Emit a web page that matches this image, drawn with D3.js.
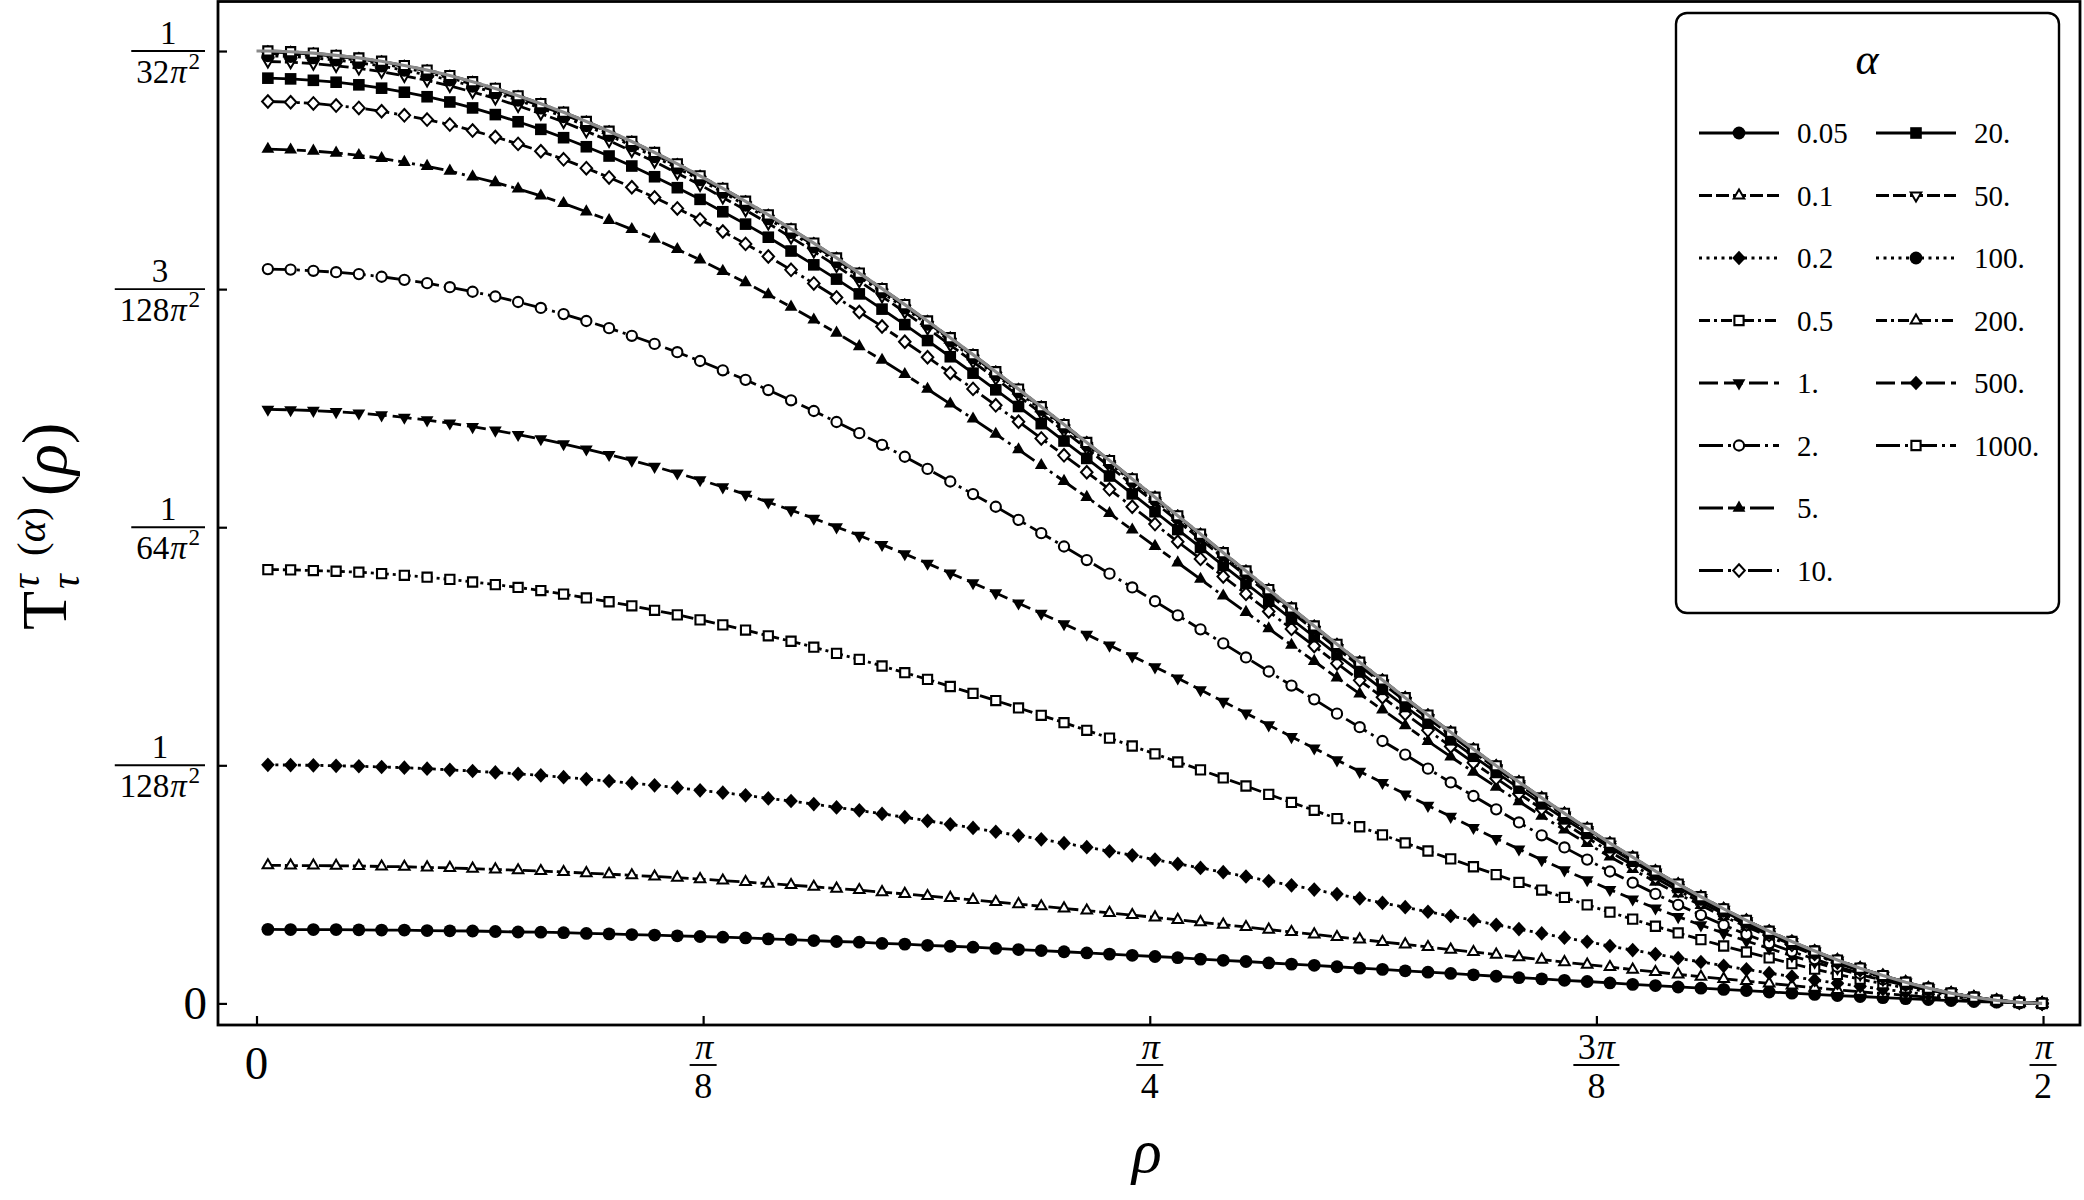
<!DOCTYPE html>
<html>
<head>
<meta charset="utf-8">
<script src="https://cdn.jsdelivr.net/npm/d3@7"></script>
<style>
html,body{margin:0;padding:0;background:#fff;}
svg{display:block;}
text{font-family:"Liberation Serif","DejaVu Serif",serif;fill:#000;}
</style>
</head>
<body>
<svg id="chart" width="2084" height="1200" xmlns="http://www.w3.org/2000/svg"></svg>
<script>
// ---------------- DATA ----------------
// sample points rho (radians)
const rho = [0.01,0.03,0.05,0.07,0.09,0.11,0.13,0.15,0.17,0.19,
0.21,0.23,0.25,0.27,0.29,0.31,0.33,0.35,0.37,0.39,
0.41,0.43,0.45,0.47,0.49,0.51,0.53,0.55,0.57,0.59,
0.61,0.63,0.65,0.67,0.69,0.71,0.73,0.75,0.77,0.79,
0.81,0.83,0.85,0.87,0.89,0.91,0.93,0.95,0.97,0.99,
1.01,1.03,1.05,1.07,1.09,1.11,1.13,1.15,1.17,1.19,
1.21,1.23,1.25,1.27,1.29,1.31,1.33,1.35,1.37,1.39,
1.41,1.43,1.45,1.47,1.49,1.51,1.53,1.55,1.57];

const alphaLabels = ["0.05","0.1","0.2","0.5","1.","2.","5.","10.","20.","50.","100.","200.","500.","1000."];

// T values in units of 1/(128 pi^2), one array per alpha
const T_a0_05 = [0.311,0.310,0.310,0.310,0.309,0.308,0.308,0.306,0.305,0.304,
0.302,0.300,0.299,0.297,0.294,0.292,0.289,0.287,0.284,0.281,
0.278,0.275,0.271,0.268,0.264,0.260,0.257,0.252,0.249,0.244,
0.240,0.236,0.231,0.226,0.222,0.217,0.212,0.207,0.202,0.197,
0.192,0.186,0.181,0.176,0.170,0.165,0.160,0.154,0.148,0.143,
0.137,0.131,0.126,0.120,0.114,0.108,0.103,0.097,0.092,0.086,
0.080,0.075,0.069,0.064,0.059,0.054,0.048,0.043,0.038,0.033,
0.029,0.024,0.020,0.016,0.012,0.008,0.005,0.002,0.000];

const T_a0_1 = [0.580,0.579,0.579,0.578,0.577,0.575,0.574,0.571,0.569,0.566,
0.563,0.559,0.556,0.552,0.547,0.543,0.538,0.533,0.528,0.522,
0.516,0.510,0.503,0.497,0.490,0.482,0.476,0.467,0.460,0.451,
0.443,0.435,0.426,0.417,0.408,0.399,0.390,0.380,0.371,0.361,
0.351,0.341,0.331,0.321,0.310,0.300,0.290,0.279,0.269,0.258,
0.248,0.237,0.226,0.216,0.205,0.194,0.184,0.173,0.163,0.153,
0.142,0.132,0.122,0.112,0.103,0.094,0.084,0.075,0.066,0.057,
0.049,0.041,0.034,0.026,0.019,0.013,0.008,0.003,0.000];

const T_a0_2 = [1.002,1.001,1.000,0.998,0.996,0.993,0.990,0.986,0.981,0.976,
0.970,0.964,0.958,0.950,0.942,0.934,0.925,0.916,0.906,0.895,
0.885,0.874,0.861,0.850,0.837,0.823,0.811,0.796,0.782,0.767,
0.752,0.737,0.721,0.705,0.689,0.673,0.656,0.639,0.622,0.604,
0.586,0.569,0.551,0.533,0.514,0.496,0.478,0.459,0.441,0.422,
0.404,0.385,0.367,0.349,0.330,0.312,0.294,0.276,0.259,0.241,
0.224,0.207,0.190,0.174,0.158,0.143,0.127,0.113,0.098,0.085,
0.072,0.060,0.048,0.037,0.026,0.018,0.010,0.004,0.000];

const T_a0_5 = [1.822,1.821,1.818,1.815,1.811,1.805,1.798,1.790,1.781,1.770,
1.759,1.747,1.734,1.719,1.703,1.687,1.670,1.651,1.632,1.611,
1.590,1.568,1.544,1.521,1.496,1.470,1.445,1.417,1.389,1.361,
1.331,1.302,1.272,1.241,1.210,1.179,1.147,1.114,1.081,1.048,
1.014,0.981,0.947,0.913,0.878,0.844,0.811,0.776,0.742,0.708,
0.674,0.640,0.607,0.574,0.541,0.508,0.476,0.445,0.414,0.383,
0.354,0.324,0.296,0.268,0.241,0.216,0.191,0.167,0.144,0.122,
0.102,0.083,0.065,0.049,0.034,0.022,0.012,0.004,0.000];

const T_a1 = [2.495,2.493,2.490,2.485,2.479,2.471,2.461,2.450,2.437,2.422,
2.407,2.389,2.371,2.350,2.328,2.305,2.281,2.255,2.227,2.199,
2.169,2.138,2.105,2.072,2.037,2.001,1.965,1.927,1.888,1.848,
1.807,1.766,1.724,1.681,1.638,1.594,1.550,1.504,1.459,1.413,
1.366,1.317,1.268,1.219,1.169,1.120,1.072,1.022,0.974,0.927,
0.879,0.831,0.785,0.738,0.692,0.648,0.603,0.560,0.519,0.478,
0.438,0.400,0.364,0.329,0.295,0.262,0.231,0.200,0.172,0.146,
0.120,0.098,0.076,0.056,0.039,0.025,0.013,0.005,0.000];

const T_a2 = [3.084,3.082,3.077,3.071,3.063,3.052,3.039,3.025,3.008,2.989,
2.969,2.946,2.921,2.895,2.866,2.836,2.804,2.770,2.735,2.698,
2.659,2.619,2.576,2.533,2.488,2.442,2.395,2.346,2.296,2.245,
2.192,2.139,2.086,2.031,1.975,1.919,1.862,1.805,1.747,1.689,
1.630,1.571,1.512,1.453,1.394,1.335,1.277,1.217,1.160,1.102,
1.045,0.986,0.928,0.871,0.815,0.760,0.706,0.655,0.604,0.554,
0.507,0.460,0.414,0.371,0.329,0.290,0.253,0.218,0.186,0.154,
0.126,0.101,0.078,0.057,0.039,0.024,0.012,0.004,0.000];

const T_a5 = [3.588,3.585,3.580,3.572,3.562,3.549,3.533,3.516,3.496,3.472,
3.448,3.421,3.392,3.360,3.325,3.289,3.251,3.210,3.167,3.123,
3.075,3.028,2.977,2.925,2.871,2.816,2.759,2.702,2.642,2.580,
2.518,2.455,2.391,2.326,2.260,2.193,2.126,2.058,1.989,1.920,
1.851,1.782,1.712,1.643,1.574,1.505,1.437,1.368,1.300,1.233,
1.167,1.101,1.036,0.972,0.909,0.848,0.787,0.729,0.672,0.616,
0.563,0.510,0.460,0.412,0.365,0.322,0.280,0.240,0.204,0.169,
0.138,0.109,0.083,0.060,0.041,0.025,0.012,0.004,0.000];

const T_a10 = [3.788,3.785,3.780,3.771,3.761,3.747,3.730,3.712,3.691,3.666,
3.639,3.610,3.579,3.545,3.508,3.469,3.428,3.385,3.339,3.292,
3.242,3.190,3.137,3.081,3.024,2.965,2.904,2.843,2.779,2.714,
2.648,2.581,2.512,2.443,2.373,2.302,2.231,2.159,2.086,2.013,
1.939,1.867,1.793,1.720,1.646,1.573,1.501,1.428,1.357,1.286,
1.216,1.147,1.079,1.011,0.945,0.881,0.817,0.756,0.696,0.637,
0.581,0.527,0.474,0.424,0.376,0.331,0.287,0.246,0.208,0.172,
0.140,0.111,0.084,0.061,0.041,0.025,0.012,0.004,0.000];

const T_a20 = [3.886,3.883,3.877,3.869,3.858,3.844,3.827,3.808,3.786,3.761,
3.733,3.703,3.671,3.636,3.598,3.559,3.517,3.472,3.426,3.377,
3.325,3.273,3.218,3.160,3.102,3.042,2.980,2.916,2.851,2.784,
2.716,2.647,2.577,2.507,2.435,2.362,2.289,2.215,2.140,2.065,
1.990,1.915,1.839,1.764,1.689,1.614,1.540,1.465,1.392,1.319,
1.247,1.177,1.107,1.038,0.970,0.904,0.838,0.775,0.714,0.654,
0.597,0.540,0.487,0.435,0.386,0.339,0.294,0.253,0.214,0.177,
0.144,0.114,0.086,0.062,0.042,0.025,0.013,0.004,0.000];

const T_a50 = [3.956,3.953,3.947,3.938,3.927,3.913,3.896,3.877,3.854,3.828,
3.801,3.770,3.737,3.702,3.663,3.623,3.580,3.535,3.487,3.438,
3.385,3.332,3.276,3.217,3.158,3.097,3.033,2.969,2.903,2.835,
2.765,2.695,2.624,2.552,2.478,2.404,2.330,2.255,2.179,2.103,
2.026,1.949,1.872,1.796,1.719,1.643,1.568,1.491,1.417,1.343,
1.270,1.198,1.127,1.056,0.987,0.920,0.854,0.789,0.727,0.666,
0.607,0.550,0.496,0.443,0.393,0.345,0.300,0.257,0.218,0.180,
0.146,0.116,0.088,0.063,0.043,0.026,0.013,0.004,0.000];

const T_a100 = [3.980,3.977,3.971,3.962,3.951,3.937,3.919,3.900,3.878,3.852,
3.824,3.793,3.760,3.724,3.686,3.645,3.602,3.556,3.508,3.459,
3.406,3.352,3.295,3.237,3.177,3.115,3.052,2.987,2.920,2.852,
2.782,2.711,2.640,2.567,2.494,2.419,2.344,2.269,2.192,2.115,
2.038,1.961,1.884,1.807,1.729,1.653,1.577,1.500,1.426,1.351,
1.278,1.205,1.133,1.063,0.993,0.925,0.859,0.794,0.731,0.670,
0.611,0.553,0.498,0.446,0.395,0.347,0.301,0.259,0.219,0.181,
0.147,0.116,0.088,0.064,0.043,0.026,0.013,0.004,0.000];

const T_a200 = [3.990,3.987,3.981,3.972,3.961,3.947,3.929,3.910,3.887,3.861,
3.833,3.802,3.770,3.734,3.695,3.654,3.611,3.565,3.517,3.467,
3.414,3.361,3.304,3.245,3.185,3.123,3.059,2.995,2.928,2.859,
2.789,2.718,2.646,2.574,2.500,2.425,2.350,2.274,2.198,2.121,
2.043,1.966,1.888,1.811,1.734,1.657,1.581,1.504,1.429,1.355,
1.281,1.208,1.136,1.065,0.996,0.928,0.861,0.796,0.733,0.671,
0.612,0.555,0.500,0.447,0.396,0.348,0.302,0.259,0.219,0.182,
0.148,0.117,0.089,0.064,0.043,0.026,0.013,0.004,0.000];

const T_a500 = [3.996,3.993,3.987,3.978,3.967,3.953,3.935,3.916,3.893,3.867,
3.839,3.808,3.775,3.739,3.700,3.659,3.616,3.570,3.522,3.473,
3.420,3.366,3.309,3.250,3.190,3.128,3.064,2.999,2.932,2.863,
2.793,2.722,2.650,2.577,2.503,2.429,2.354,2.278,2.201,2.124,
2.046,1.969,1.891,1.814,1.736,1.659,1.583,1.506,1.432,1.357,
1.283,1.210,1.138,1.067,0.997,0.929,0.862,0.797,0.734,0.672,
0.613,0.555,0.500,0.448,0.397,0.349,0.303,0.260,0.220,0.182,
0.148,0.117,0.089,0.064,0.043,0.026,0.013,0.004,0.000];

const T_a1000 = [4.000,3.997,3.991,3.982,3.971,3.957,3.939,3.920,3.897,3.871,
3.843,3.812,3.779,3.743,3.704,3.663,3.620,3.574,3.526,3.476,
3.423,3.369,3.312,3.253,3.193,3.131,3.067,3.002,2.935,2.866,
2.796,2.725,2.653,2.580,2.506,2.431,2.356,2.280,2.203,2.126,
2.048,1.971,1.893,1.816,1.738,1.661,1.585,1.508,1.433,1.358,
1.284,1.211,1.139,1.068,0.998,0.930,0.863,0.798,0.735,0.673,
0.614,0.556,0.501,0.448,0.397,0.349,0.303,0.260,0.220,0.182,
0.148,0.117,0.089,0.064,0.043,0.026,0.013,0.004,0.000];

// limiting (alpha -> infinity) curve, grey line
const limitRho = [0].concat(rho);
const limitValues = [4.000].concat(T_a1000);

const seriesValues = [T_a0_05,T_a0_1,T_a0_2,T_a0_5,T_a1,T_a2,T_a5,T_a10,T_a20,T_a50,T_a100,T_a200,T_a500,T_a1000];

// ticks
const yTickValues = [0,1,2,3,4];
const yTickNum = ["0","1","1","3","1"];
const yTickDen = [null,"128","64","128","32"];
const xTickValues = [0, Math.PI/8, Math.PI/4, 3*Math.PI/8, Math.PI/2];
const xTickNum = ["0","π","π","3π","π"];
const xTickDen = [null,"8","4","8","2"];

// ---------------- STYLE ----------------
const dashCycle = [null, "13,4", "3,4.5", "11,4,3,4", "19,6", "24,5,3,5", "24,5,9,5,3,5", "24,5,3,4,9,4"];
const markerCycle = ["circleF","triUpO","diamondF","squareO","triDownF","circleO","triUpF","diamondO","squareF","triDownO","circleF","triUpO","diamondF","squareO"];

const R3 = Math.sqrt(3);
const shapes = {
  circle: {draw(c, r){ c.moveTo(r,0); c.arc(0,0,r,0,2*Math.PI); }},
  square: {draw(c, r){ c.moveTo(-r,-r); c.lineTo(r,-r); c.lineTo(r,r); c.lineTo(-r,r); c.closePath(); }},
  triUp: {draw(c, r){ c.moveTo(0,-r); c.lineTo(r*R3/2, r/2); c.lineTo(-r*R3/2, r/2); c.closePath(); }},
  triDown: {draw(c, r){ c.moveTo(0,r); c.lineTo(r*R3/2,-r/2); c.lineTo(-r*R3/2,-r/2); c.closePath(); }},
  diamond: {draw(c, r){ c.moveTo(0,-r*1.08); c.lineTo(r,0); c.lineTo(0,r*1.08); c.lineTo(-r,0); c.closePath(); }}
};
const markerSpec = {
  circleF:  {shape:"circle", r:6.4, fill:"#000", stroke:"none", sw:0},
  circleO:  {shape:"circle", r:5.1, fill:"#fff", stroke:"#000", sw:2.1},
  squareF:  {shape:"square", r:5.8, fill:"#000", stroke:"none", sw:0},
  squareO:  {shape:"square", r:4.6, fill:"#fff", stroke:"#000", sw:2.1},
  triUpF:   {shape:"triUp", r:7.4, fill:"#000", stroke:"none", sw:0},
  triUpO:   {shape:"triUp", r:6.1, fill:"#fff", stroke:"#000", sw:2.0},
  triDownF: {shape:"triDown", r:7.4, fill:"#000", stroke:"none", sw:0},
  triDownO: {shape:"triDown", r:6.1, fill:"#fff", stroke:"#000", sw:2.0},
  diamondF: {shape:"diamond", r:6.8, fill:"#000", stroke:"none", sw:0},
  diamondO: {shape:"diamond", r:5.8, fill:"#fff", stroke:"#000", sw:2.0}
};
function symbolPath(key){
  const s = markerSpec[key];
  return d3.symbol().type(shapes[s.shape]).size(s.r)();
}

// ---------------- LAYOUT ----------------
const svg = d3.select("#chart");
const frame = {left:218, right:2080, top:1.5, bottom:1025};
const x = d3.scaleLinear().domain([-0.03385, 1.6033]).range([frame.left, frame.right]);
const y = d3.scaleLinear().domain([-0.0907, 4.208]).range([frame.bottom, frame.top]);

svg.append("rect").attr("width",2084).attr("height",1200).attr("fill","#fff");

const plot = svg.append("g");
const line = d3.line().x(d => x(d[0])).y(d => y(d[1]));

seriesValues.forEach((vals, i) => {
  const pts = rho.map((r, k) => [r, vals[k]]);
  const g = plot.append("g").attr("class","series");
  g.append("path").datum(pts)
    .attr("d", line)
    .attr("fill","none")
    .attr("stroke","#000")
    .attr("stroke-width",2.8)
    .attr("stroke-dasharray", dashCycle[i % 8])
    .attr("stroke-linejoin","round");
  const mk = markerCycle[i];
  const spec = markerSpec[mk];
  const p = symbolPath(mk);
  g.selectAll("path.m").data(pts).join("path")
    .attr("class","m")
    .attr("d", p)
    .attr("transform", d => `translate(${x(d[0])},${y(d[1])})`)
    .attr("fill", spec.fill)
    .attr("stroke", spec.stroke)
    .attr("stroke-width", spec.sw);
});

// grey limiting curve
plot.append("path").datum(limitRho.map((r,k)=>[r, limitValues[k]]))
  .attr("d", line).attr("fill","none").attr("stroke","#8a8a8a").attr("stroke-width",3.2);

// frame
svg.append("rect")
  .attr("x",frame.left).attr("y",frame.top)
  .attr("width",frame.right-frame.left).attr("height",frame.bottom-frame.top)
  .attr("fill","none").attr("stroke","#000").attr("stroke-width",2.8);

// axes (ticks only, pointing inward)
const xAxis = d3.axisBottom(x).tickValues(xTickValues).tickSize(-9).tickFormat("");
const gx = svg.append("g").attr("transform",`translate(0,${frame.bottom})`).call(xAxis);
gx.select(".domain").remove();
gx.selectAll(".tick line").attr("stroke","#000").attr("stroke-width",2.2);

const yAxis = d3.axisLeft(y).tickValues(yTickValues).tickSize(-9).tickFormat("");
const gy = svg.append("g").attr("transform",`translate(${frame.left},0)`).call(yAxis);
gy.select(".domain").remove();
gy.selectAll(".tick line").attr("stroke","#000").attr("stroke-width",2.2);

// rich text helper: digits upright, π italic, "^2" superscript
function rich(textSel, str, fs){
  let i = 0;
  while (i < str.length){
    const ch = str[i];
    if (ch === "^"){
      textSel.append("tspan").attr("font-size", fs*0.7).attr("dx", fs*0.05).attr("dy", -fs*0.42).text(str[i+1]);
      i += 2;
    } else if (ch === "π"){
      textSel.append("tspan").attr("font-style","italic").attr("dx", fs*0.03).text("π");
      i++;
    } else {
      let j = i;
      while (j < str.length && str[j] !== "π" && str[j] !== "^") j++;
      textSel.append("tspan").text(str.slice(i,j));
      i = j;
    }
  }
}

function fraction(parent, num, den, fs, numDy, denDy, pad){
  const g = parent.append("g");
  const tn = g.append("text").attr("text-anchor","middle").attr("font-size",fs).attr("y",numDy);
  rich(tn, num, fs);
  const td = g.append("text").attr("text-anchor","middle").attr("font-size",fs).attr("y",denDy);
  rich(td, den, fs);
  const w = Math.max(tn.node().getBBox().width, td.node().getBBox().width) + pad;
  g.append("line").attr("x1",-w/2).attr("x2",w/2).attr("y1",0).attr("y2",0)
    .attr("stroke","#000").attr("stroke-width",1.9);
  return {g, w};
}

// y tick labels
yTickValues.forEach((v, i) => {
  const yy = y(v);
  if (yTickDen[i] === null){
    svg.append("text").attr("x",207).attr("y",yy+16).attr("text-anchor","end")
      .attr("font-size",47).text(yTickNum[i]);
  } else {
    const f = fraction(svg, yTickNum[i], yTickDen[i] + "π^2", 33, -7, 32, 10);
    f.g.attr("transform",`translate(${205 - f.w/2},${yy})`);
  }
});

// x tick labels
xTickValues.forEach((v, i) => {
  const xx = x(v);
  if (xTickDen[i] === null){
    svg.append("text").attr("x",xx).attr("y",1079).attr("text-anchor","middle")
      .attr("font-size",47).text(xTickNum[i]);
  } else {
    const f = fraction(svg, xTickNum[i], xTickDen[i], 36, -6, 33, 8);
    f.g.attr("transform",`translate(${xx},1065)`);
  }
});

// axis titles
svg.append("text").attr("x",1147).attr("y",1172).attr("text-anchor","middle")
  .attr("font-size",62).attr("font-style","italic").text("ρ");

const yt = svg.append("g").attr("transform","translate(66,630) rotate(-90)");
yt.append("text").attr("x",0).attr("y",0).attr("font-size",64).text("T");
yt.append("text").attr("x",41).attr("y",-27).attr("font-size",41).attr("font-style","italic").text("τ");
yt.append("text").attr("x",41).attr("y",13).attr("font-size",41).attr("font-style","italic").text("τ");
const ya = yt.append("text").attr("x",74).attr("y",-21).attr("font-size",41);
ya.append("tspan").text("(");
ya.append("tspan").attr("font-style","italic").text("α");
ya.append("tspan").text(")");
const yr = yt.append("text").attr("x",134).attr("y",0).attr("font-size",64);
yr.append("tspan").text("(");
yr.append("tspan").attr("font-style","italic").text("ρ");
yr.append("tspan").text(")");

// legend
const lg = svg.append("g");
lg.append("rect").attr("x",1676).attr("y",13).attr("width",383).attr("height",600)
  .attr("rx",11).attr("fill","#fff").attr("stroke","#000").attr("stroke-width",2.4);
lg.append("text").attr("x",1867).attr("y",74).attr("text-anchor","middle")
  .attr("font-size",44).attr("font-style","italic").text("α");
alphaLabels.forEach((lab, i) => {
  const col = i < 8 ? 0 : 1;
  const row = i < 8 ? i : i - 8;
  const yy = 133 + 62.5*row;
  const x1 = col === 0 ? 1699 : 1876;
  const x2 = x1 + 80;
  const xm = (x1 + x2)/2;
  lg.append("line").attr("x1",x1).attr("x2",x2).attr("y1",yy).attr("y2",yy)
    .attr("stroke","#000").attr("stroke-width",2.8)
    .attr("stroke-dasharray", dashCycle[i % 8]);
  const mk = markerCycle[i], spec = markerSpec[mk];
  lg.append("path").attr("d", symbolPath(mk)).attr("transform",`translate(${xm},${yy})`)
    .attr("fill",spec.fill).attr("stroke",spec.stroke).attr("stroke-width",spec.sw);
  lg.append("text").attr("x", x2 + 18).attr("y", yy + 10).attr("font-size",29).text(lab);
});
</script>
</body>
</html>
